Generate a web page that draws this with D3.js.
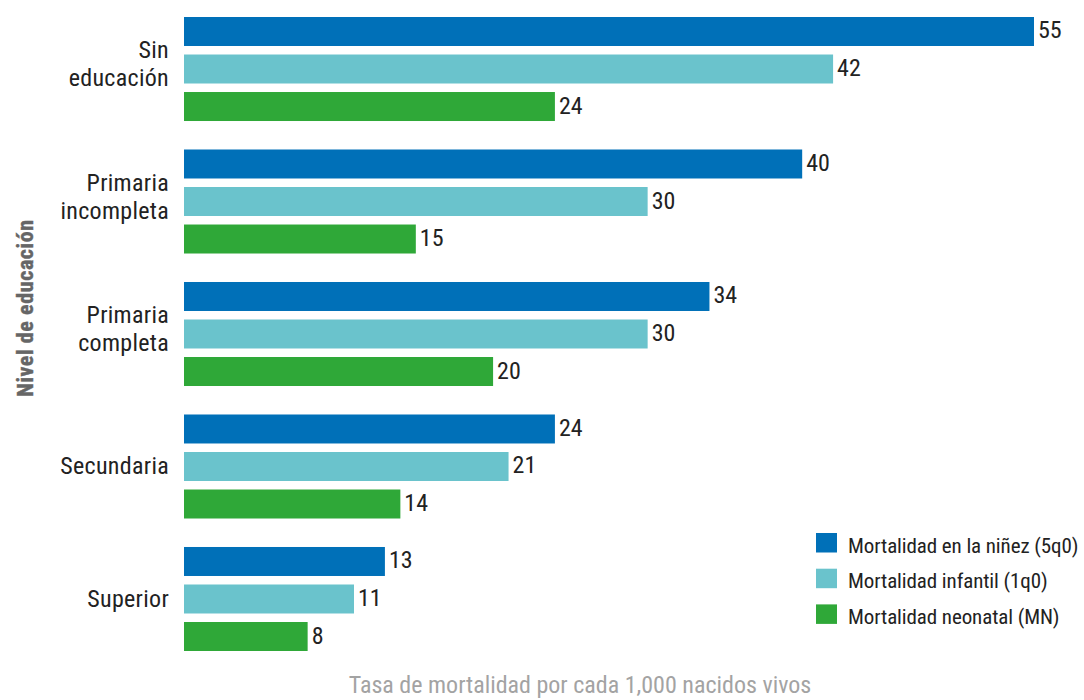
<!DOCTYPE html>
<html><head><meta charset="utf-8">
<script src="https://cdn.jsdelivr.net/npm/d3@7"></script>
<style>
body{margin:0;background:#fff;}
svg text{font-family:"Roboto Condensed","Liberation Sans Narrow","Arial Narrow",sans-serif;}
</style></head>
<body><svg id="c" width="1084" height="700"></svg>
<script>
const categories = [["Sin","educación"],["Primaria","incompleta"],["Primaria","completa"],["Secundaria"],["Superior"]];
const seriesNames = ["Mortalidad en la niñez (5q0)","Mortalidad infantil (1q0)","Mortalidad neonatal (MN)"];
const child = [55,40,34,24,13];
const infant = [42,30,30,21,11];
const neonatal = [24,15,20,14,8];
const colors = ["#0070b8","#6ac3cc","#2fa838"];
const xTitle = "Tasa de mortalidad por cada 1,000 nacidos vivos";
const yTitle = "Nivel de educación";

const values = [child, infant, neonatal];
const svg = d3.select("#c");
const catKeys = categories.map(c=>c.join(" "));
const y0 = d3.scaleBand().domain(catKeys).range([17,651]).paddingInner(0.215);
const y1 = d3.scaleBand().domain(d3.range(3)).range([0,y0.bandwidth()]).paddingInner(0.227);
const x = d3.scaleLinear().domain([0,55]).range([184,1034]);

const g = svg.append("g");
catKeys.forEach((k,i)=>{
  values.forEach((arr,s)=>{
    const v = arr[i];
    g.append("rect").attr("x",x(0)).attr("y",y0(k)+y1(s)).attr("width",x(v)-x(0)).attr("height",y1.bandwidth()).attr("fill",colors[s]);
    g.append("text").attr("x",x(v)+4).attr("y",y0(k)+y1(s)+y1.bandwidth()/2+7)
      .attr("font-size",24).attr("fill","#222").text(v);
  });
  const lines = categories[i];
  const n = lines.length;
  const cy = y0(k)+y0.bandwidth()/2;
  const lh = 28;
  const t = g.append("text").attr("text-anchor","end").attr("font-size",24).attr("fill","#222")
    .attr("letter-spacing","0.3px");
  lines.forEach((ln,j)=>{
    t.append("tspan").attr("x",169).attr("y",cy + 8 + (j-(n-1)/2)*lh - (n-1)*5).text(ln);
  });
});

// legend
const lg = svg.append("g");
seriesNames.forEach((nm,s)=>{
  const yy = 533 + s*35.7;
  lg.append("rect").attr("x",816).attr("y",yy).attr("width",21).attr("height",19.5).attr("fill",colors[s]);
  lg.append("text").attr("x",848).attr("y",yy+19.5).attr("font-size",21).attr("letter-spacing","-0.1px").attr("fill","#222").text(nm);
});

svg.append("text").attr("x",580).attr("y",693).attr("text-anchor","middle").attr("font-size",24).attr("fill","#a3a3a3").text(xTitle);
svg.append("text").attr("transform","translate(33,308) rotate(-90)").attr("text-anchor","middle")
  .attr("font-size",22).attr("letter-spacing","0.6px").attr("font-weight","bold").attr("fill","#666")
  .attr("stroke","#666").attr("stroke-width",0.4).text(yTitle);
</script></body></html>
